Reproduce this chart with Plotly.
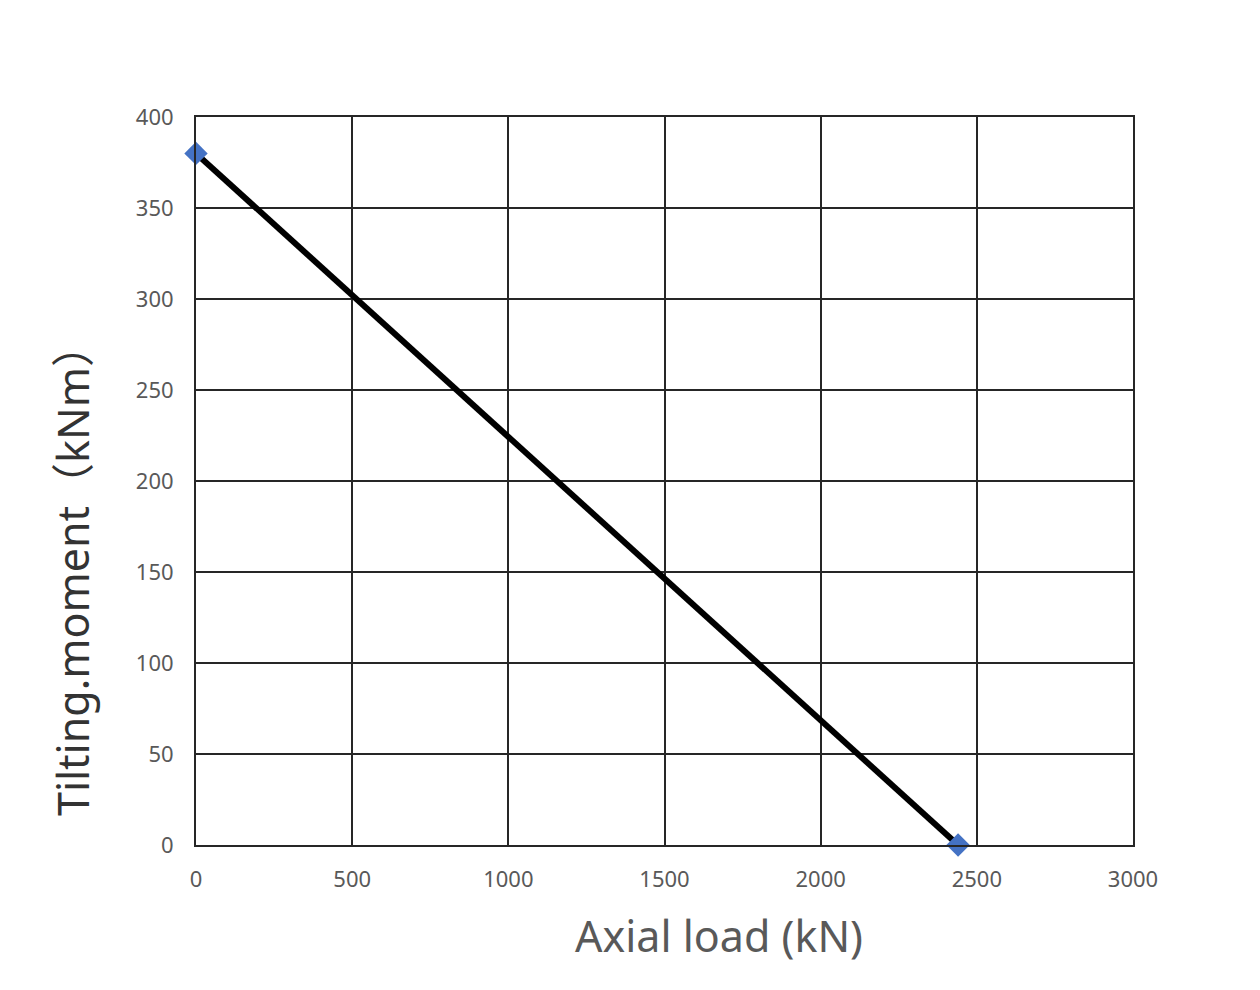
import plotly.graph_objects as go

axial_load = [0, 2440]
tilting_moment = [380, 0]
x_ticks = [0, 500, 1000, 1500, 2000, 2500, 3000]
y_ticks = [0, 50, 100, 150, 200, 250, 300, 350, 400]

fig = go.Figure()
fig.add_trace(go.Scatter(
    x=axial_load, y=tilting_moment, mode="lines+markers",
    line=dict(color="black", width=6),
    marker=dict(symbol="diamond", size=18, color="#4472C4"),
    showlegend=False, cliponaxis=False,
))

grid = dict(showgrid=True, gridcolor="#262626", gridwidth=2,
            showline=True, linecolor="#262626", linewidth=2, mirror=True,
            zeroline=False, ticks="",
            tickfont=dict(family="Noto Sans", size=22, color="#595959"))

fig.update_xaxes(range=[0, 3000], tickvals=x_ticks, ticklabelstandoff=14, **grid)
fig.update_yaxes(range=[0, 400], tickvals=y_ticks, ticklabelstandoff=16, **grid)

fig.update_layout(
    width=1260, height=990,
    margin=dict(l=188, r=135, t=109, b=153),
    paper_bgcolor="white", plot_bgcolor="white",
    annotations=[
        dict(text="Axial load (kN)", xref="paper", yref="paper",
             x=(718.5 - 196) / 937, y=-(935 - 845) / 728, showarrow=False,
             xanchor="center", yanchor="middle",
             font=dict(family="Noto Sans", size=43, color="#595959")),
        dict(text="Tilting.moment（kNm）", xref="paper", yref="paper",
             x=-(196 - 72) / 937, y=(845 - 570) / 728, showarrow=False,
             xanchor="center", yanchor="middle", textangle=-90,
             font=dict(family="Noto Sans, Noto Sans CJK SC", size=43, color="#333333")),
    ],
)

fig.write_html("out.html")
